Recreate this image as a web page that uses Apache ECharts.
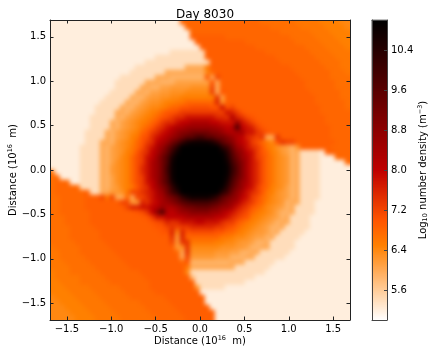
<!DOCTYPE html>
<html><head><meta charset="utf-8">
<style>html,body{margin:0;padding:0;background:#fff}#c{width:436px;height:354px;isolation:isolate}
canvas[data-zr-dom-id="zr_-1"]{filter:blur(2px);clip-path:inset(20px 86px 34px 50px)}</style>
<script src="https://cdn.jsdelivr.net/npm/echarts@6/dist/echarts.min.js"></script>
</head><body><div id="c"></div>
<script>
// Density: log10 number density x10, one list per image row (top to bottom).
// A plain number is one cell; [v,n] is n neighbouring cells of value v.
const densityRows = [
[[52,26],[68,16],[67,7],[66,5],[65,4],[64,2]],
[[52,27],[68,17],[67,6],[66,5],[65,4],64],
[[52,28],[68,18],[67,6],[66,4],[65,4]],
[[52,28],[69,7],[68,13],[67,5],[66,4],[65,3]],
[[52,29],[69,10],[68,10],[67,5],[66,4],[65,2]],
[[52,30],[69,11],[68,10],[67,4],[66,4],65],
[[52,24],[54,7],[69,12],[68,9],[67,4],[66,4]],
[[52,21],[54,10],[69,14],[68,8],[67,4],[66,3]],
[[52,19],[54,13],[69,14],[68,8],[67,4],[66,2]],
[[52,17],[54,10],[60,4],66,[69,16],[68,7],[67,3],[66,2]],
[[52,16],[54,7],[60,8],64,68,[69,16],[68,7],[67,3],66],
[[52,14],[54,7],[60,3],[59,7],70,60,72,[69,16],[68,6],[67,4]],
[[52,13],[54,6],[60,3],[59,3],[61,7],70,60,[69,17],[68,6],[67,3]],
[[52,13],[54,5],[60,2],[59,2],[61,2],[62,4],[63,4],72,60,[69,17],[68,6],[67,3]],
[[52,12],[54,5],[60,2],59,[61,2],[62,2],[63,3],[64,5],73,60,70,[69,17],[68,6],[67,2]],
[[52,11],[54,5],60,[59,2],61,[62,2],[63,2],[64,2],[65,7],74,61,[69,18],[68,5],[67,2]],
[[52,10],[54,5],60,[59,2],61,62,[63,2],64,[65,2],[66,2],[68,6],76,63,[69,18],[68,6],67],
[[52,9],[54,5],60,[59,2],61,62,63,[64,2],65,66,[68,2],[70,2],[71,4],[70,2],78,70,72,[69,17],[68,5],67],
[[52,9],[54,4],[60,2],59,61,62,63,64,65,66,68,[70,2],71,[73,8],72,78,76,73,70,[69,15],[68,6]],
[[52,8],[54,5],60,59,61,62,63,64,65,66,68,70,71,73,[75,2],[78,6],[75,2],74,82,76,74,71,70,[69,14],[68,5]],
[[52,8],[54,4],60,59,61,62,63,64,65,66,68,70,73,[75,2],78,[80,2],[83,4],[80,2],[78,3],86,78,75,72,70,[69,13],[68,5]],
[[52,8],[54,4],60,59,61,62,63,64,66,68,70,73,75,78,80,[83,2],[86,6],84,83,80,82,98,80,78,76,72,70,[69,13],[68,4]],
[[52,7],[54,4],60,59,61,62,63,64,65,68,70,73,75,78,80,83,86,[89,2],[92,4],[89,2],86,83,82,84,84,78,78,74,72,70,[69,12],[68,4]],
[[52,7],[54,4],60,59,61,62,63,65,66,70,71,75,78,80,83,86,89,92,[96,2],[100,2],[96,2],[92,2],89,86,82,80,76,74,72,74,60,60,74,[69,10],[68,4]],
[[52,7],[54,3],[60,2],59,62,63,64,65,68,70,73,75,80,83,86,92,96,102,106,108,[108,2],108,106,102,96,92,89,83,80,78,73,71,68,66,64,70,74,72,72,[69,8],[68,3]],
[[52,6],[54,4],60,59,61,62,63,64,66,68,71,75,78,83,86,92,98,104,[110,8],104,100,93,86,83,78,75,73,70,66,65,63,62,61,59,62,[69,6],[68,4]],
[[52,6],[54,4],60,59,61,62,63,65,66,70,73,75,80,83,89,94,102,108,[110,8],109,104,96,89,86,80,78,73,70,68,65,64,62,61,59,60,[54,4],52,[69,2],[68,3]],
[[52,6],[54,4],60,59,61,62,64,65,68,71,73,78,80,86,92,98,106,[110,10],106,98,92,86,83,78,73,71,68,66,64,63,62,59,60,[54,4],[52,3],[68,3]],
[[52,6],[54,4],60,59,61,63,64,65,68,71,73,78,83,86,92,98,108,[110,10],108,100,94,89,83,78,75,71,68,66,64,63,62,59,60,[54,4],[52,5],68],
[[52,6],[54,4],60,59,62,63,64,65,68,71,75,78,83,86,92,100,108,[110,10],109,102,96,89,83,78,75,71,68,66,64,63,62,59,60,[54,4],[52,6]],
[67,[52,5],[54,4],60,59,62,63,64,65,68,71,75,78,83,86,92,100,108,[110,10],109,102,96,89,83,78,75,71,68,66,64,63,62,59,60,[54,4],[52,6]],
[67,68,[52,4],[54,4],60,59,61,63,64,65,68,71,73,78,83,86,92,98,108,[110,10],108,100,94,89,83,78,75,71,68,66,64,63,62,59,60,[54,4],[52,6]],
[67,[68,3],[52,2],[54,4],60,59,61,63,64,65,68,71,73,78,80,86,92,98,106,[110,10],106,98,92,86,83,78,75,71,68,66,64,63,62,59,60,[54,4],[52,6]],
[67,[68,5],[54,4],60,59,61,62,64,65,66,70,73,75,80,84,89,94,102,108,[110,8],109,103,96,90,86,80,78,73,70,68,65,64,63,61,59,60,[54,4],[52,6]],
[67,[68,6],69,[54,2],[60,2],[62,2],63,66,[72,2],74,76,78,83,86,93,100,104,[110,8],104,100,92,87,83,78,75,73,70,66,65,63,62,61,59,60,[54,4],[52,6]],
[[67,2],[68,5],[69,3],72,66,72,60,60,68,60,72,72,75,78,82,84,89,92,96,102,106,108,[108,2],108,106,102,96,92,89,86,80,78,73,71,68,66,64,63,62,61,59,60,[54,4],[52,6]],
[[67,2],[68,5],[69,7],[72,2],[62,2],76,74,78,80,84,86,89,92,96,98,[100,4],98,96,92,89,86,83,78,75,73,70,68,65,64,63,62,59,[60,2],[54,3],[52,7]],
[[67,2],[68,5],[69,8],72,[76,2],[78,2],80,82,86,[83,2],86,89,[92,2],[94,3],92,90,87,86,83,78,75,73,70,68,66,64,63,62,61,59,60,[54,4],[52,7]],
[[67,2],[68,6],[69,9],70,71,74,80,88,98,82,80,83,[86,2],[89,4],[86,2],83,80,78,75,73,71,68,66,65,64,63,61,[59,2],60,[54,4],[52,7]],
[[67,3],[68,5],[69,11],70,73,[78,2],[80,4],[83,6],[80,2],78,75,73,71,70,66,65,64,63,62,61,59,60,[54,4],[52,8]],
[[67,3],[68,5],[69,12],70,71,72,76,74,75,[78,3],[80,2],[78,3],75,[73,2],70,68,66,65,64,63,62,61,59,[60,2],[54,4],[52,8]],
[[67,4],[68,5],[69,12],[70,2],72,74,72,[73,2],[75,5],[73,2],71,70,68,66,65,64,63,62,61,[59,2],60,[54,5],[52,8]],
[[67,4],[68,6],[69,12],[70,2],76,64,76,70,[71,5],[70,2],[68,2],66,65,64,63,[62,2],61,59,60,[54,5],[52,9]],
[[67,4],[68,6],[69,14],74,62,76,[68,7],[66,2],65,[64,2],63,62,[61,2],59,60,[54,5],[52,10]],
[[67,5],[68,6],[69,13],72,62,[74,2],[66,5],[65,2],[64,2],63,[62,2],61,[59,2],60,[54,5],[52,11]],
[66,[67,5],[68,6],[69,13],62,63,74,[64,6],[63,3],[62,2],61,[59,2],[60,2],[54,5],[52,11]],
[[66,2],[67,4],[68,7],[69,12],68,60,74,[63,5],[62,3],[61,2],[59,2],[60,2],[54,6],[52,12]],
[[66,2],[67,5],[68,7],[69,12],60,72,[62,5],[61,3],[59,3],[60,2],[54,6],[52,13]],
[[66,3],[67,5],[68,7],[69,11],68,70,[59,8],[60,3],[54,6],[52,15]],
[[66,4],[67,5],[68,7],[69,11],66,[60,9],[54,7],[52,16]],
[65,[66,3],[67,6],[68,8],[69,9],64,[54,15],[52,17]],
[65,[66,5],[67,5],[68,8],[69,9],58,[54,12],[52,19]],
[[65,2],[66,4],[67,6],[68,8],[69,9],[54,10],[52,21]],
[[65,3],[66,5],[67,6],[68,6],[69,9],62,[54,5],[52,25]],
[[65,4],[66,5],[67,6],[68,6],[69,9],[52,30]],
[64,[65,4],[66,5],[67,6],[68,7],[69,8],[52,29]],
[[64,2],[65,4],[66,5],[67,7],[68,6],[69,7],[52,29]],
[[64,3],[65,4],[66,5],[67,7],[68,6],[69,7],[52,28]],
[[64,4],[65,4],[66,5],[67,7],[68,6],[69,7],[52,27]],
[[64,5],[65,4],[66,5],[67,7],[68,6],[69,6],[52,27]]
];
const distanceTicks = [-1.5,-1,-0.5,0,0.5,1,1.5];
const colorbarTicks = [5.6,6.4,7.2,8.0,8.8,9.6,10.4];
const colorbarLevels = [];
for (let v = 5.01; v < 11; v += 0.02) colorbarLevels.push(+v.toFixed(2));
const colormap = ['#ffffff','#ffd5aa','#ffaa55','#ff8000','#ff5500','#df2b00','#bf0000','#9f0000','#800000','#600000','#400000','#200000','#000000'];

// Two hidden cells repeat the edge values on each side, so the smoothing of the image
// has data to work with at the frame; the frame clips them away.
const pad = 2;
const expanded = densityRows.map(row => row.flatMap(c => Array.isArray(c) ? Array(c[1]).fill(c[0]) : [c]));
const nCols = expanded[0].length, nRows = expanded.length;
const cells = [];
for (let j = -pad; j < nRows + pad; j++) {
  const row = expanded[Math.min(nRows - 1, Math.max(0, j))];
  for (let i = -pad; i < nCols + pad; i++) {
    cells.push([i + pad, nRows + pad - 1 - j, row[Math.min(nCols - 1, Math.max(0, i))] / 10]);
  }
}
const cols = Array.from({length: nCols + 2 * pad}, (_, i) => String(i));
const rowsCat = Array.from({length: nRows + 2 * pad}, (_, i) => String(i));
const font = 'DejaVu Sans';
const ink = '#000';
const fmt = v => { const s = Number(v).toFixed(1); return v < 0 ? '\u2212' + s.slice(1) : s; };
const rich = {
  n: {fontFamily: font, fontSize: 10, color: ink},
  sup: {fontFamily: font, fontSize: 6.5, color: ink, verticalAlign: 'top', lineHeight: 12},
  sub: {fontFamily: font, fontSize: 6.5, color: ink, verticalAlign: 'bottom', lineHeight: 12}
};
const distName = '{n|Distance (10}{sup|16}{n|  m)}';
const frameAxis = (extra) => Object.assign({
  type: 'value', gridIndex: 1, min: -1.69, max: 1.69, splitLine: {show: false},
  axisLine: {show: true, onZero: false, lineStyle: {color: '#222', width: 1}},
  axisTick: {show: true, inside: true, length: 3.5, lineStyle: {color: '#222', width: 1}, customValues: distanceTicks},
  axisLabel: {show: false}, z: 10
}, extra);
const shownLabel = {show: true, customValues: distanceTicks, formatter: fmt, fontFamily: font, fontSize: 10, color: ink, margin: 4};
const barLine = {show: true, onZero: false, lineStyle: {color: '#444', width: 1}};

const chart = echarts.init(document.getElementById('c'), null, {renderer: 'canvas'});
chart.setOption({
  animation: false,
  title: {text: 'Day 8030', left: 200, top: 4, textAlign: 'center',
    textStyle: {fontFamily: font, fontSize: 12, fontWeight: 'normal', color: ink}},
  grid: [
    {left: 40, top: 10, width: 320, height: 320, show: false, outerBoundsMode: 'none'},
    {left: 50, top: 20, width: 300, height: 300, show: false, outerBoundsMode: 'none'},
    {left: 372, top: 20, width: 15, height: 300, show: false, outerBoundsMode: 'none'}
  ],
  xAxis: [
    {type: 'category', gridIndex: 0, data: cols, show: false},
    frameAxis({position: 'bottom', axisLabel: shownLabel, name: distName, nameLocation: 'middle', nameMoveOverlap: false, nameGap: 15, nameTextStyle: {rich}}),
    frameAxis({position: 'top'}),
    {type: 'category', gridIndex: 2, data: ['c'], position: 'bottom', axisLine: barLine, axisTick: {show: false}, axisLabel: {show: false}, z: 10},
    {type: 'category', gridIndex: 2, data: ['c'], position: 'top', axisLine: barLine, axisTick: {show: false}, axisLabel: {show: false}, z: 10}
  ],
  yAxis: [
    {type: 'category', gridIndex: 0, data: rowsCat, show: false},
    frameAxis({position: 'left', axisLabel: shownLabel, name: distName, nameLocation: 'middle', nameRotate: 90, nameMoveOverlap: false, nameGap: 31, nameTextStyle: {rich}}),
    frameAxis({position: 'right'}),
    {type: 'category', gridIndex: 2, data: colorbarLevels.map(String), show: false},
    {type: 'value', gridIndex: 2, position: 'right', min: 5, max: 11, splitLine: {show: false},
      axisLine: barLine,
      axisTick: {show: true, inside: true, length: 3, lineStyle: {color: '#444', width: 1}, customValues: colorbarTicks},
      axisLabel: {show: true, customValues: colorbarTicks, formatter: v => Number(v).toFixed(1), fontFamily: font, fontSize: 10, color: ink, margin: 4},
      name: '{n|Log}{sub|10}{n| number density (m}{sup|\u22123}{n|)}', nameLocation: 'middle', nameRotate: 90, nameMoveOverlap: false, nameGap: 30, nameTextStyle: {rich}, z: 10},
    {type: 'value', gridIndex: 2, position: 'left', min: 5, max: 11, splitLine: {show: false},
      axisLine: barLine, axisTick: {show: false}, axisLabel: {show: false}, z: 10}
  ],
  visualMap: {show: false, type: 'continuous', min: 5, max: 11, seriesIndex: [0, 1], dimension: 2, inRange: {color: colormap}},
  series: [
    {type: 'heatmap', name: 'density', xAxisIndex: 0, yAxisIndex: 0, zlevel: -1, data: cells, silent: true, progressive: 0, emphasis: {disabled: true}},
    {type: 'heatmap', name: 'colorbar', xAxisIndex: 3, yAxisIndex: 3, data: colorbarLevels.map((v, i) => [0, i, v]), silent: true, progressive: 0, emphasis: {disabled: true}},
    {type: 'line', xAxisIndex: 1, yAxisIndex: 1, data: [], silent: true},
    {type: 'line', xAxisIndex: 2, yAxisIndex: 2, data: [], silent: true}
  ]
});
</script></body></html>
